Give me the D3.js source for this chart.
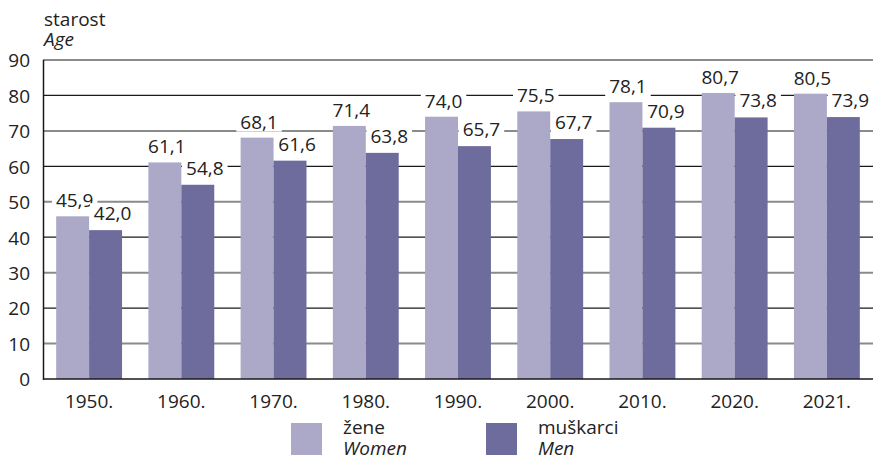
<!DOCTYPE html>
<html>
<head>
  <meta charset="utf-8">
  <script src="https://cdn.jsdelivr.net/npm/d3@7"></script>
  <style>
    body { margin: 0; background: #fff; }
    text { font-family: "Open Sans", sans-serif; fill: #222; }
  </style>
</head>
<body>
<script>
  let [w, h] = [873, 458]
  let fs = 19

  // data
  var years = ["1950.", "1960.", "1970.", "1980.", "1990.", "2000.", "2010.", "2020.", "2021."]
  var women = [45.9, 61.1, 68.1, 71.4, 74.0, 75.5, 78.1, 80.7, 80.5]
  var men = [42.0, 54.8, 61.6, 63.8, 65.7, 67.7, 70.9, 73.8, 73.9]
  var yTicks = [0, 10, 20, 30, 40, 50, 60, 70, 80, 90]
  var seriesKeys = ["w", "m"]
  var seriesNames = [["žene", "Women"], ["muškarci", "Men"]]
  var colors = ["#aba8c8", "#6e6c9c"]

  var fmt = function (v) { return d3.format(".1f")(v).replace(".", ",") }

  var svg = d3.select("body").append("svg")
    .attr("width", w)
    .attr("height", h)

  var x0 = d3.scaleBand().domain(years).range([43, 873]).padding(0)
  var x1 = d3.scaleBand().domain(seriesKeys).range([0, x0.bandwidth()])
    .paddingInner(0).paddingOuter(0.4)
  var y = d3.scaleLinear().domain([0, 90]).range([379, 60])

  // gridlines, alternating grey / black
  svg.append("g").selectAll("line")
    .data(yTicks.filter(d => d > 0))
    .join("line")
    .attr("x1", 43).attr("x2", w)
    .attr("y1", d => y(d)).attr("y2", d => y(d))
    .attr("stroke", d => (d / 10) % 2 ? "#8a8a8a" : "#1a1a1a")
    .attr("stroke-width", d => (d / 10) % 2 ? 2 : 1.2)

  // y axis labels
  var yAxis = svg.append("g")
    .attr("transform", "translate(43,0)")
    .call(d3.axisLeft(y).tickValues(yTicks).tickSize(0).tickPadding(13))
  yAxis.select(".domain").remove()
  yAxis.selectAll("text")
    .style("font-family", "'Open Sans', sans-serif")
    .attr("font-size", fs).attr("fill", "#222").attr("dy", "0.36em")

  var rows = years.map((yr, i) => ({ year: yr, vals: [women[i], men[i]] }))

  var groups = svg.append("g").selectAll("g")
    .data(rows)
    .join("g")
    .attr("transform", d => "translate(" + x0(d.year) + ",0)")

  groups.selectAll("rect")
    .data(d => d.vals.map((v, k) => ({ key: seriesKeys[k], v: v, k: k })))
    .join("rect")
    .attr("x", d => x1(d.key))
    .attr("width", x1.bandwidth())
    .attr("y", d => y(d.v))
    .attr("height", d => y(0) - y(d.v))
    .attr("fill", d => colors[d.k])

  // value labels with white boxes
  var labelShift = [2, 7], labelGap = [9, 10]
  var lab = groups.selectAll("g.lab")
    .data(d => d.vals.map((v, k) => ({ key: seriesKeys[k], v: v, k: k })))
    .join("g")
    .attr("class", "lab")
    .attr("transform", d => "translate(" + (x1(d.key) + x1.bandwidth() / 2 + labelShift[d.k]) + "," + (y(d.v) - labelGap[d.k]) + ")")
  lab.append("rect").attr("fill", "#fff")
  lab.append("text")
    .attr("text-anchor", "middle")
    .attr("font-size", fs)
    .text(d => fmt(d.v))
  lab.each(function () {
    var g = d3.select(this)
    var b = g.select("text").node().getBBox()
    g.select("rect")
      .attr("x", b.x - 4).attr("y", b.y + 3)
      .attr("width", b.width + 8).attr("height", b.height - 6)
  })
  lab.raise()

  // axes lines
  svg.append("line").attr("x1", 43.5).attr("x2", 43.5).attr("y1", y(90)).attr("y2", y(0) + 1)
    .attr("stroke", "#1a1a1a").attr("stroke-width", 1.5)
  svg.append("line").attr("x1", 43).attr("x2", w).attr("y1", y(0)).attr("y2", y(0))
    .attr("stroke", "#1a1a1a").attr("stroke-width", 1.5)

  // x labels
  svg.append("g").selectAll("text")
    .data(years)
    .join("text")
    .attr("x", d => x0(d) + x0.bandwidth() / 2)
    .attr("y", 408)
    .attr("text-anchor", "middle")
    .attr("font-size", fs)
    .text(d => d)

  // axis title
  svg.append("text").attr("x", 44).attr("y", 26).attr("font-size", fs).text("starost")
  svg.append("text").attr("x", 44).attr("y", 46).attr("font-size", fs)
    .attr("font-style", "italic").text("Age")

  // legend
  var legX = [291, 486]
  var leg = svg.append("g").selectAll("g")
    .data(seriesNames)
    .join("g")
    .attr("transform", (d, i) => "translate(" + legX[i] + ",423)")
  leg.append("rect").attr("width", 31).attr("height", 32).attr("fill", (d, i) => colors[i])
  leg.append("text").attr("x", 52).attr("y", 11).attr("font-size", fs).text(d => d[0])
  leg.append("text").attr("x", 52).attr("y", 32).attr("font-size", fs)
    .attr("font-style", "italic").text(d => d[1])
</script>
</body>
</html>
